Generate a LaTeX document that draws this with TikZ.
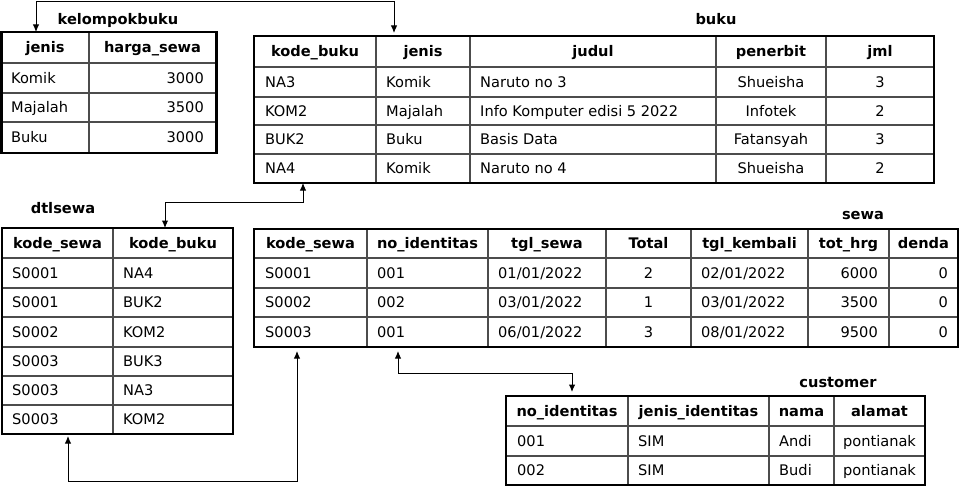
\documentclass[tikz,border=0pt]{standalone}
\usepackage{fontspec}
\setmainfont{DejaVu Sans}
\usetikzlibrary{arrows.meta}
\newcommand\vln[3]{\draw[inner] (#1,-#2) -- (#1,-#3);}
\newcommand\hln[3]{\draw[inner] (#2,-#1) -- (#3,-#1);}
\begin{document}
\begin{tikzpicture}[x=1pt,y=1pt,
 inner/.style={line width=1.3pt, draw=black!70},
 tbl/.style={draw, line width=2.8pt, inner sep=0, outer sep=0, anchor=north west},
 cell/.style={inner sep=0, text height=10.6pt, text depth=0pt, font=\fontsize{14.6}{16}\selectfont},
 hd/.style={cell, font=\fontsize{14.6}{16}\selectfont\bfseries},
 lt/.style={cell, anchor=west},
 rt/.style={cell, anchor=east},
 ct/.style={cell},
 ttl/.style={hd},
 conn/.style={line width=1pt, {Latex[length=7.5pt,width=6.5pt]}-{Latex[length=7.5pt,width=6.5pt]}},
]
\useasboundingbox (0,0) rectangle (961,-487);

% ---------------- kelompokbuku
\hln{63}{1}{216}\hln{93}{1}{216}\hln{122}{1}{216}
\vln{89}{32}{153}
\node[tbl, minimum width=215pt, minimum height=121pt] (kb) at (1.5,-32) {};
\node[ttl] (kb-t) at (118,-19) {kelompokbuku};
\node[hd] (kb-h1) at (45,-47.5) {jenis};
\node[hd] (kb-h2) at (152.5,-47.5) {harga\_sewa};
\node[lt] (kb-11) at (11,-78) {Komik};   \node[rt] (kb-12) at (204,-78) {3000};
\node[lt] (kb-21) at (11,-107.5) {Majalah}; \node[rt] (kb-22) at (204,-107.5) {3500};
\node[lt] (kb-31) at (11,-137.5) {Buku};  \node[rt] (kb-32) at (204,-137.5) {3000};

% ---------------- buku
\hln{67}{254}{934}\hln{97}{254}{934}\hln{125}{254}{934}\hln{154}{254}{934}
\vln{376}{36}{183}\vln{470}{36}{183}\vln{716}{36}{183}\vln{826}{36}{183}
\node[tbl, minimum width=680pt, minimum height=147pt] (buku) at (254,-36) {};
\node[ttl] (buku-t) at (716,-19) {buku};
\node[hd] (bk-h1) at (315,-51.5) {kode\_buku};
\node[hd] (bk-h2) at (423,-51.5) {jenis};
\node[hd] (bk-h3) at (593,-51.5) {judul};
\node[hd] (bk-h4) at (771,-51.5) {penerbit};
\node[hd] (bk-h5) at (880,-51.5) {jml};
\node[lt] (bk-11) at (265,-82) {NA3};  \node[lt] (bk-12) at (386,-82) {Komik};
\node[lt] (bk-13) at (480,-82) {Naruto no 3}; \node[ct] (bk-14) at (771,-82) {Shueisha}; \node[ct] (bk-15) at (880,-82) {3};
\node[lt] (bk-21) at (265,-111) {KOM2}; \node[lt] (bk-22) at (386,-111) {Majalah};
\node[lt] (bk-23) at (480,-111) {Info Komputer edisi 5 2022}; \node[ct] (bk-24) at (771,-111) {Infotek}; \node[ct] (bk-25) at (880,-111) {2};
\node[lt] (bk-31) at (265,-139.5) {BUK2}; \node[lt] (bk-32) at (386,-139.5) {Buku};
\node[lt] (bk-33) at (480,-139.5) {Basis Data}; \node[ct] (bk-34) at (771,-139.5) {Fatansyah}; \node[ct] (bk-35) at (880,-139.5) {3};
\node[lt] (bk-41) at (265,-168.5) {NA4}; \node[lt] (bk-42) at (386,-168.5) {Komik};
\node[lt] (bk-43) at (480,-168.5) {Naruto no 4}; \node[ct] (bk-44) at (771,-168.5) {Shueisha}; \node[ct] (bk-45) at (880,-168.5) {2};

% ---------------- dtlsewa
\hln{258}{2}{233}\hln{288}{2}{233}\hln{317}{2}{233}\hln{347}{2}{233}\hln{376}{2}{233}\hln{405}{2}{233}
\vln{113}{228}{434}
\node[tbl, minimum width=231pt, minimum height=206pt] (dtl) at (2,-228) {};
\node[ttl] (dtl-t) at (63,-208) {dtlsewa};
\node[hd] (dt-h1) at (57.5,-243) {kode\_sewa};
\node[hd] (dt-h2) at (173,-243) {kode\_buku};
\node[lt] (dt-11) at (12,-273) {S0001};   \node[lt] (dt-12) at (123,-273) {NA4};
\node[lt] (dt-21) at (12,-302.5) {S0001}; \node[lt] (dt-22) at (123,-302.5) {BUK2};
\node[lt] (dt-31) at (12,-332) {S0002};   \node[lt] (dt-32) at (123,-332) {KOM2};
\node[lt] (dt-41) at (12,-361.5) {S0003}; \node[lt] (dt-42) at (123,-361.5) {BUK3};
\node[lt] (dt-51) at (12,-390.5) {S0003}; \node[lt] (dt-52) at (123,-390.5) {NA3};
\node[lt] (dt-61) at (12,-419.5) {S0003}; \node[lt] (dt-62) at (123,-419.5) {KOM2};

% ---------------- sewa
\hln{258}{254}{958}\hln{288}{254}{958}\hln{317}{254}{958}
\vln{367}{229}{347}\vln{488}{229}{347}\vln{606}{229}{347}\vln{691}{229}{347}\vln{808}{229}{347}\vln{889}{229}{347}
\node[tbl, minimum width=704pt, minimum height=118pt] (sewa) at (254,-229) {};
\node[ttl] (sewa-t) at (863,-214) {sewa};
\node[hd] (sw-h1) at (310.5,-243.5) {kode\_sewa};
\node[hd] (sw-h2) at (427.5,-243.5) {no\_identitas};
\node[hd] (sw-h3) at (547,-243.5) {tgl\_sewa};
\node[hd] (sw-h4) at (648.5,-243.5) {Total};
\node[hd] (sw-h5) at (749.5,-243.5) {tgl\_kembali};
\node[hd] (sw-h6) at (848.5,-243.5) {tot\_hrg};
\node[hd] (sw-h7) at (923.5,-243.5) {denda};
\node[lt] (sw-11) at (265,-273) {S0001}; \node[lt] (sw-12) at (377,-273) {001}; \node[lt] (sw-13) at (498,-273) {01/01/2022};
\node[ct] (sw-14) at (648.5,-273) {2}; \node[lt] (sw-15) at (701,-273) {02/01/2022}; \node[rt] (sw-16) at (878,-273) {6000}; \node[rt] (sw-17) at (948,-273) {0};
\node[lt] (sw-21) at (265,-302.5) {S0002}; \node[lt] (sw-22) at (377,-302.5) {002}; \node[lt] (sw-23) at (498,-302.5) {03/01/2022};
\node[ct] (sw-24) at (648.5,-302.5) {1}; \node[lt] (sw-25) at (701,-302.5) {03/01/2022}; \node[rt] (sw-26) at (878,-302.5) {3500}; \node[rt] (sw-27) at (948,-302.5) {0};
\node[lt] (sw-31) at (265,-332) {S0003}; \node[lt] (sw-32) at (377,-332) {001}; \node[lt] (sw-33) at (498,-332) {06/01/2022};
\node[ct] (sw-34) at (648.5,-332) {3}; \node[lt] (sw-35) at (701,-332) {08/01/2022}; \node[rt] (sw-36) at (878,-332) {9500}; \node[rt] (sw-37) at (948,-332) {0};

% ---------------- customer
\hln{426}{506}{925}\hln{456}{506}{925}
\vln{628}{396}{485}\vln{769}{396}{485}\vln{834}{396}{485}
\node[tbl, minimum width=419pt, minimum height=89pt] (cust) at (506,-396) {};
\node[ttl] (cust-t) at (838,-382) {customer};
\node[hd] (cu-h1) at (567,-411) {no\_identitas};
\node[hd] (cu-h2) at (698.5,-411) {jenis\_identitas};
\node[hd] (cu-h3) at (801.5,-411) {nama};
\node[hd] (cu-h4) at (879.5,-411) {alamat};
\node[lt] (cu-11) at (517,-441) {001}; \node[lt] (cu-12) at (638,-441) {SIM}; \node[lt] (cu-13) at (779,-441) {Andi}; \node[ct] (cu-14) at (879.5,-441) {pontianak};
\node[lt] (cu-21) at (517,-470.5) {002}; \node[lt] (cu-22) at (638,-470.5) {SIM}; \node[lt] (cu-23) at (779,-470.5) {Budi}; \node[ct] (cu-24) at (879.5,-470.5) {pontianak};

% ---------------- connectors
\draw[conn] ([xshift=34.5pt]kb.north west) -- ++(0,30) -| ([xshift=140pt,yshift=3pt]buku.north west);
\draw[conn] ([xshift=49pt]buku.south west) -- ++(0,-19) -| ([xshift=163pt]dtl.north west);
\draw[conn] ([xshift=66pt,yshift=-2pt]dtl.south west) -- ++(0,-45) -| ([xshift=43pt,yshift=-4pt]sewa.south west);
\draw[conn] ([xshift=144pt,yshift=-4pt]sewa.south west) -- ++(0,-22) -| ([xshift=66pt,yshift=4pt]cust.north west);
\end{tikzpicture}
\end{document}
